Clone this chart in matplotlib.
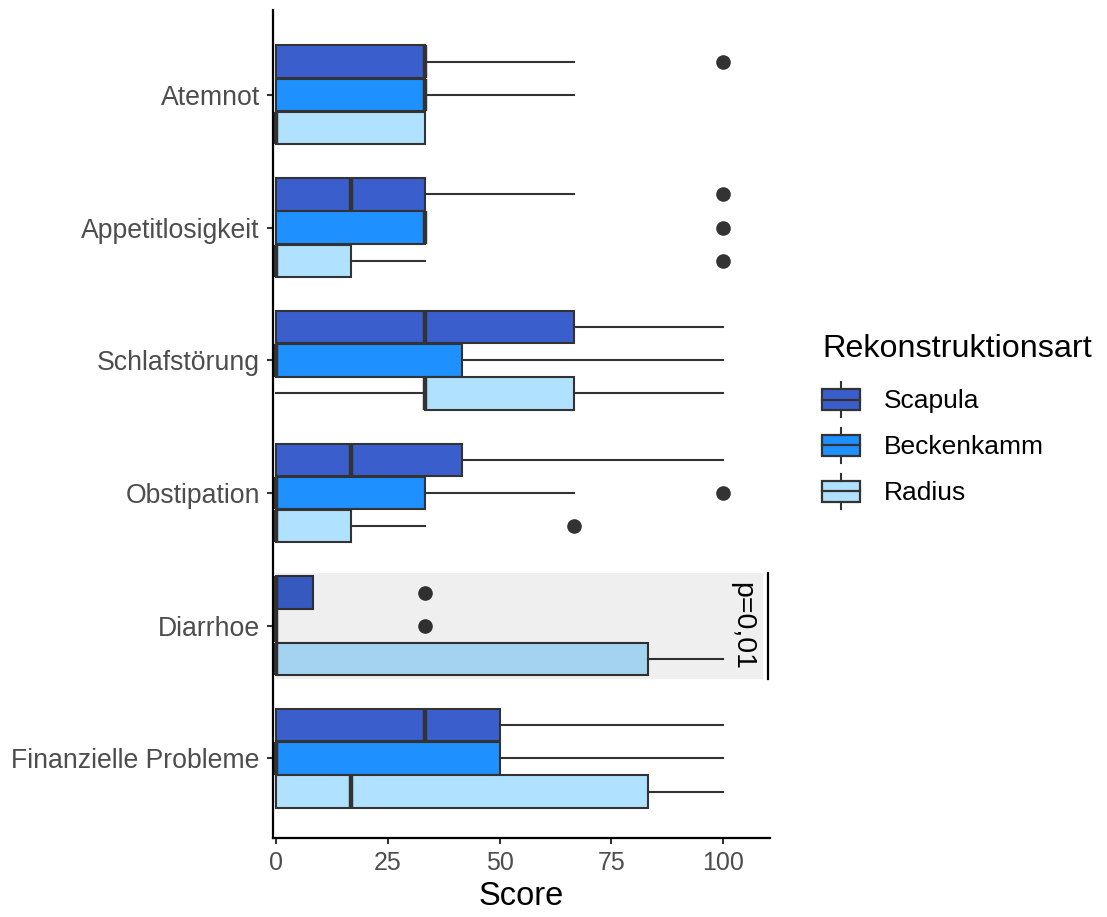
import matplotlib
matplotlib.use("Agg")
import matplotlib.pyplot as plt
from matplotlib.patches import Rectangle
from matplotlib.lines import Line2D
from matplotlib.legend_handler import HandlerBase

plt.rcParams["font.family"] = ["Liberation Sans", "DejaVu Sans"]

# Symptom scales, top to bottom
categories = ["Atemnot", "Appetitlosigkeit", "Schlafstörung",
              "Obstipation", "Diarrhoe", "Finanzielle Probleme"]
groups = ["Scapula", "Beckenkamm", "Radius"]
colors = ["#3A5FCD", "#1E90FF", "#B0E2FF"]

# Box statistics per group, one entry per category (same order as categories):
# (whisker low, Q1, median, Q3, whisker high, outliers)
scapula = [
    (0, 0, 33.3, 33.3, 66.7, [100]),
    (0, 0, 16.7, 33.3, 66.7, [100]),
    (0, 0, 33.3, 66.7, 100, []),
    (0, 0, 16.7, 41.7, 100, []),
    (0, 0, 0, 8.3, 8.3, [33.3]),
    (0, 0, 33.3, 50, 100, []),
]
beckenkamm = [
    (0, 0, 33.3, 33.3, 66.7, []),
    (0, 0, 33.3, 33.3, 33.3, [100]),
    (0, 0, 0, 41.7, 100, []),
    (0, 0, 0, 33.3, 66.7, [100]),
    (0, 0, 0, 0, 0, [33.3]),
    (0, 0, 0, 50, 100, []),
]
radius = [
    (0, 0, 0, 33.3, 33.3, []),
    (0, 0, 0, 16.7, 33.3, [100]),
    (0, 33.3, 33.3, 66.7, 100, []),
    (0, 0, 0, 16.7, 33.3, [66.7]),
    (0, 0, 0, 83.3, 100, []),
    (0, 0, 16.7, 83.3, 100, []),
]
series = [scapula, beckenkamm, radius]

x_ticks = [0, 25, 50, 75, 100]
highlight_category = "Diarrhoe"
highlight_span = (0, 109)
p_label = "p=0,01"
p_label_x = 104.2
p_bar_x = 110

dark = "#333333"
fig = plt.figure(figsize=(11.07, 9.17), dpi=100)
ax = fig.add_axes([273 / 1107, 1 - 838 / 917, (770 - 273) / 1107, (838 - 10) / 917])

n = len(categories)
cat_pos = {c: n - i for i, c in enumerate(categories)}   # top category highest
offsets = [0.25, 0.0, -0.25]
box_w = 0.245

for grp_stats, col, off in zip(series, colors, offsets):
    stats = []
    positions = []
    for cat, (wlo, q1, med, q3, whi, fl) in zip(categories, grp_stats):
        stats.append(dict(whislo=wlo, q1=q1, med=med, q3=q3, whishi=whi, fliers=fl))
        positions.append(cat_pos[cat] + off)
    ax.bxp(stats, positions=positions, widths=box_w, orientation="horizontal",
           patch_artist=True, showcaps=False, manage_ticks=False,
           boxprops=dict(facecolor=col, edgecolor=dark, linewidth=1.5),
           medianprops=dict(color=dark, linewidth=3.2, solid_capstyle="butt"),
           whiskerprops=dict(color=dark, linewidth=1.5),
           flierprops=dict(marker="o", markerfacecolor=dark, markeredgecolor=dark,
                           markersize=9.5))

# shaded significance band with p-value annotation
yc = cat_pos[highlight_category]
ax.add_patch(Rectangle((highlight_span[0], yc - 0.4), highlight_span[1] - highlight_span[0], 0.8,
                       facecolor="black", alpha=0.063, edgecolor="none", zorder=5))
ax.plot([p_bar_x, p_bar_x], [yc - 0.4, yc + 0.4], color="black", linewidth=1.6,
        zorder=6, clip_on=False)
ax.text(p_label_x, yc, p_label, rotation=-90, ha="center", va="center",
        fontsize=20.5, color="black", zorder=6)

ax.set_xlim(-0.67, 110.5)
ax.set_ylim(0.4, n + 0.64)
ax.set_yticks([cat_pos[c] for c in categories])
ax.set_yticklabels(categories)
ax.set_xticks(x_ticks)
ax.set_xticklabels([str(t) for t in x_ticks])

for side in ["top", "right"]:
    ax.spines[side].set_visible(False)
for side in ["left", "bottom"]:
    ax.spines[side].set_linewidth(1.6)
    ax.spines[side].set_color("black")
ax.tick_params(axis="y", length=4.5, width=1.5, color=dark, labelcolor="#4D4D4D",
               labelsize=19.2, pad=5)
ax.tick_params(axis="x", length=4.5, width=1.5, color=dark, labelcolor="#4D4D4D",
               labelsize=18, pad=5)
ax.set_xlabel("Score", fontsize=23.5, color="black", labelpad=4)


class BoxKeyHandler(HandlerBase):
    def __init__(self, facecolor):
        super().__init__()
        self.facecolor = facecolor

    def create_artists(self, legend, orig_handle, xdescent, ydescent, width, height,
                       fontsize, trans):
        x0, y0 = -xdescent, -ydescent
        bh = height * 0.62
        by = y0 + (height - bh) / 2
        xm = x0 + width / 2
        rect = Rectangle((x0, by), width, bh, facecolor=self.facecolor,
                         edgecolor=dark, linewidth=1.6, transform=trans)
        med = Line2D([x0, x0 + width], [y0 + height / 2] * 2, color=dark,
                     linewidth=1.6, transform=trans)
        w1 = Line2D([xm, xm], [y0, by], color=dark, linewidth=1.5, transform=trans)
        w2 = Line2D([xm, xm], [by + bh, y0 + height], color=dark, linewidth=1.5,
                    transform=trans)
        return [rect, med, w1, w2]


handles = [Rectangle((0, 0), 1, 1, facecolor=c) for c in colors]
handler_map = {h: BoxKeyHandler(c) for h, c in zip(handles, colors)}
leg = fig.legend(handles, groups, handler_map=handler_map, loc="upper left",
                 bbox_to_anchor=(809 / 1107, 1 - 321 / 917), frameon=False,
                 fontsize=19, title="Rekonstruktionsart", title_fontsize=23.3,
                 alignment="left", handlelength=1.44, handleheight=1.65,
                 handletextpad=0.9, labelspacing=0.42, borderpad=0)
leg._legend_box.sep = 13

fig.savefig("out.png", dpi=100)
